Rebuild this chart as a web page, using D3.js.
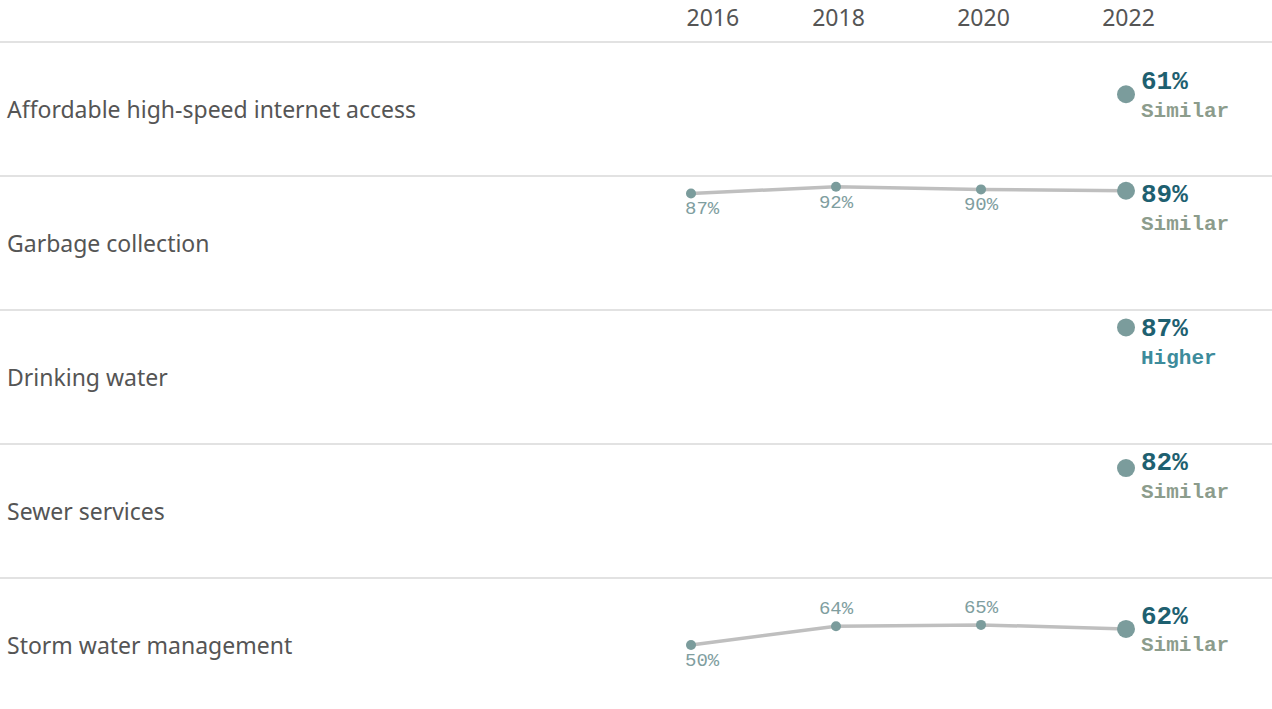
<!DOCTYPE html>
<html>
<head>
<meta charset="utf-8">
<script src="https://cdn.jsdelivr.net/npm/d3@7"></script>
<style>
  html, body { margin: 0; padding: 0; background: #fff; }
  svg { display: block; }
</style>
</head>
<body>
<svg id="chart" width="1272" height="709"></svg>
<script>
// Service satisfaction by year, one row per service
const categories = [
  "Affordable high-speed internet access",
  "Garbage collection",
  "Drinking water",
  "Sewer services",
  "Storm water management"
];
const years = [2016, 2018, 2020, 2022];
const internetValues = [null, null, null, 61];
const garbageValues = [87, 92, 90, 89];
const drinkingValues = [null, null, null, 87];
const sewerValues = [null, null, null, 82];
const stormValues = [50, 64, 65, 62];
const comparisons = ["Similar", "Similar", "Higher", "Similar", "Similar"];

const seriesValues = [internetValues, garbageValues, drinkingValues, sewerValues, stormValues];
const rows = categories.map((name, i) => ({
  name,
  comparison: comparisons[i],
  points: years.map((year, j) => ({ year, value: seriesValues[i][j] })).filter(p => p.value != null)
}));

const W = 1272, H = 709;
const headerBottom = 42;
const rowH = 134;
const paneLeft = 685;

const svg = d3.select("#chart");

const y = d3.scaleBand().domain(categories).range([headerBottom, headerBottom + rowH * categories.length]).paddingInner(0).paddingOuter(0);
const x = d3.scaleLinear().domain([2016, 2022]).range([691, 1126]);
const yIn = d3.scaleLinear().domain([0, 100]).range([rowH, 0]);

const colors = {
  rule: "#d9d9d9",
  text: "#555555",
  line: "#bfbfbf",
  dot: "#7b9c9c",
  small: "#7f9e9f",
  big: "#1e6070",
  Similar: "#8c9c8c",
  Higher: "#3d8b9b"
};
const sansFont = "'Noto Sans', Lato, sans-serif";
const monoFont = "'Liberation Mono', 'Courier New', monospace";

// Year header along the top, using a top axis without domain or ticks
const header = svg.append("g").attr("transform", `translate(2,26)`)
  .call(d3.axisTop(x).tickValues(years).tickFormat(d3.format("d")).tickSize(0).tickPadding(0));
header.select(".domain").remove();
header.selectAll("text")
  .attr("font-family", sansFont)
  .attr("font-size", 23)
  .attr("fill", colors.text)
  .attr("dy", 0)
  .each(function () {
    // keep the first label inside the plotting pane
    const t = d3.select(this);
    const box = this.getBBox();
    const tx = x(+t.datum()) + 2;
    if (tx + box.x < paneLeft + 2) {
      t.attr("text-anchor", "start").attr("x", paneLeft + 1 - tx);
    }
  });

// Horizontal rules: under the header and between rows
svg.append("line")
  .attr("x1", 0).attr("x2", W)
  .attr("y1", headerBottom).attr("y2", headerBottom)
  .attr("stroke", colors.rule).attr("stroke-width", 1.5);

svg.selectAll("line.sep")
  .data(categories.slice(1))
  .join("line")
  .attr("class", "sep")
  .attr("x1", 0).attr("x2", W)
  .attr("y1", d => y(d)).attr("y2", d => y(d))
  .attr("stroke", colors.rule).attr("stroke-width", 1.5);

const rowG = svg.selectAll("g.row")
  .data(rows)
  .join("g")
  .attr("class", "row")
  .attr("transform", d => `translate(0,${y(d.name)})`);

// Category labels
rowG.append("text")
  .attr("x", 7)
  .attr("y", rowH / 2 + 9)
  .attr("font-family", sansFont)
  .attr("font-size", 23)
  .attr("fill", colors.text)
  .text(d => d.name);

// Trend lines
const line = d3.line().x(p => x(p.year)).y(p => yIn(p.value));
rowG.filter(d => d.points.length > 1)
  .append("path")
  .attr("d", d => line(d.points))
  .attr("fill", "none")
  .attr("stroke", colors.line)
  .attr("stroke-width", 3.5)
  .attr("stroke-linejoin", "round");

// Earlier years: small dots with value labels
rowG.each(function (d) {
  const g = d3.select(this);
  const earlier = d.points.slice(0, -1);
  g.selectAll("circle.small")
    .data(earlier)
    .join("circle")
    .attr("class", "small")
    .attr("cx", p => x(p.year))
    .attr("cy", p => yIn(p.value))
    .attr("r", 5)
    .attr("fill", colors.dot);

  g.selectAll("text.small")
    .data(earlier)
    .join("text")
    .attr("class", "small")
    .attr("font-family", monoFont)
    .attr("font-size", 19)
    .attr("fill", colors.small)
    .attr("text-anchor", "middle")
    .attr("x", p => x(p.year))
    .attr("y", (p, i) => {
      const py = yIn(p.value);
      const above = i > 0 && py > 30;
      return above ? py - 12 : py + 21;
    })
    .text(p => p.value + "%")
    .each(function () {
      const box = this.getBBox();
      if (box.x < paneLeft) {
        d3.select(this).attr("text-anchor", "start").attr("x", paneLeft);
      }
    });

  // Latest year: large dot with bold value and comparison
  const last = d.points[d.points.length - 1];
  const ly = yIn(last.value);
  g.append("circle")
    .attr("cx", x(last.year))
    .attr("cy", ly)
    .attr("r", 9)
    .attr("fill", colors.dot);

  const base = Math.max(ly - 5, 26);
  g.append("text")
    .attr("x", x(last.year) + 15)
    .attr("y", base)
    .attr("font-family", monoFont)
    .attr("font-weight", "bold")
    .attr("font-size", 26)
    .attr("fill", colors.big)
    .text(last.value + "%");

  g.append("text")
    .attr("x", x(last.year) + 15)
    .attr("y", base + 27.5)
    .attr("font-family", monoFont)
    .attr("font-weight", "bold")
    .attr("font-size", 21)
    .attr("fill", colors[d.comparison])
    .text(d.comparison);
});
</script>
</body>
</html>
